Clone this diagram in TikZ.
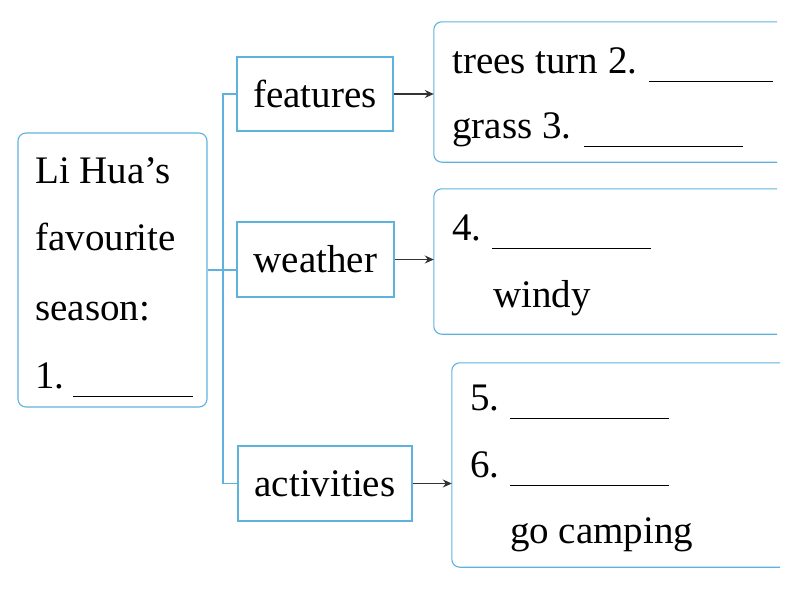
\documentclass[tikz,border=0pt]{standalone}
\usepackage{fontspec}
\setmainfont{Liberation Serif}
\usetikzlibrary{arrows.meta,positioning}
\definecolor{frame}{RGB}{95,178,222}
\newcommand{\blank}[1]{\rule[-9pt]{#1pt}{0.9pt}}
\tikzset{box/.style={draw=frame,line width=1.1pt,inner sep=0pt,font=\fontsize{39}{47}\selectfont},
  area/.style={inner sep=0pt},
  txt/.style={inner sep=0pt,anchor=base west,font=\fontsize{39}{47}\selectfont},
  link/.style={draw=frame,line width=1.1pt},
  arr/.style={-{Stealth[length=9pt,width=8pt,inset=3pt]},line width=1.4pt,black!80}}

\begin{document}
\begin{tikzpicture}[x=1pt,y=-1pt]
    \useasboundingbox (0,0) rectangle (809,592);
    % season box
    \node[box,rounded corners=8pt,minimum width=189pt,minimum height=274pt] (hua) at (112.5,270) {};
    \node[txt] (s1) at (35,183) {Li Hua’s};
    \node[txt] (s2) at (35,250) {favourite};
    \node[txt] (s3) at (35,320) {season:};
    \node[txt] (s4) at (35,388) {1.\hspace{9pt}\blank{120}};
    % topics
    \node[box,minimum width=156pt,minimum height=74pt] (feat) at (315,94) {features};
    \node[box,minimum width=157pt,minimum height=75pt] (weath) at (315.5,259.5) {weather};
    \node[box,minimum width=174pt,minimum height=75pt] (act) at (325,483.5) {activities};
    \coordinate (trunk) at (223,0);
    \draw[link] (hua.east) -- (hua.east -| weath.west);
    \draw[link] (feat.west) -- (feat.west -| trunk) |- (act.west);
    % answer areas, open on the right
    \node[area,minimum width=343pt,minimum height=140pt] (ans1) at (605.5,92) {};
    \node[area,minimum width=343pt,minimum height=145pt] (ans2) at (605.5,261.5) {};
    \node[area,minimum width=328pt,minimum height=204pt] (ans3) at (616,465) {};
    \foreach \a in {ans1,ans2,ans3}
        \draw[link,rounded corners=8pt] (\a.north east) -- (\a.north west) -- (\a.south west) -- (\a.south east);
    \draw[arr] (feat.east) -- (feat.east -| ans1.west);
    \draw[arr] (weath.east) -- (weath.east -| ans2.west);
    \draw[arr] (act.east) -- (act.east -| ans3.west);
    % answers
    \node[txt] (a2) at (452,73) {trees turn 2.\hspace{12pt}\blank{124}};
    \node[txt] (a3) at (452,138) {grass 3.\hspace{13pt}\blank{159}};
    \node[txt] (a4) at (452,240) {4.\hspace{11pt}\blank{159}};
    \node[txt] (w) at (493,307) {windy};
    \node[txt] (a5) at (470,410) {5.\hspace{11pt}\blank{159}};
    \node[txt] (a6) at (470,477) {6.\hspace{11pt}\blank{159}};
    \node[txt] (camp) at (510,543) {go camping};
\end{tikzpicture}
\end{document}
